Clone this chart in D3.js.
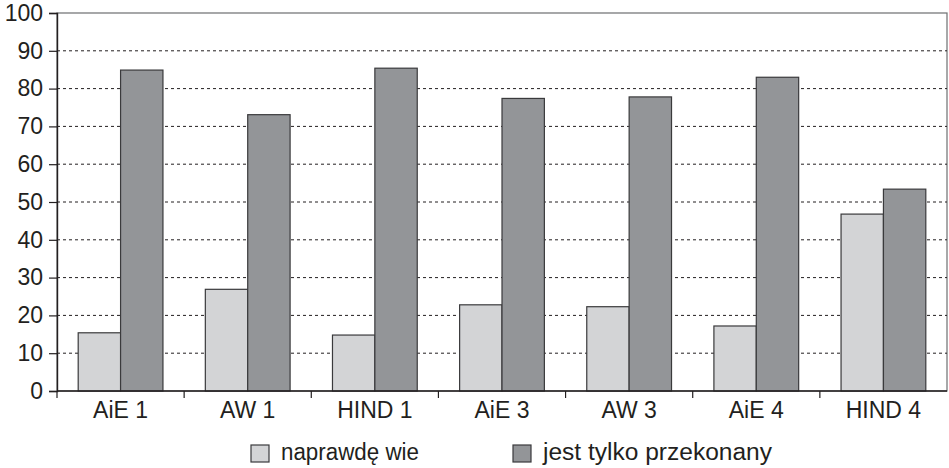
<!DOCTYPE html>
<html>
<head>
<meta charset="utf-8">
<script src="https://cdn.jsdelivr.net/npm/d3@7"></script>
<style>
  body { margin: 0; background: #fff; }
  text { font-family: "Liberation Sans", Arial, sans-serif; fill: #231f20; }
</style>
</head>
<body>
<div id="chart"></div>
<script>
// data
var categories = ["AiE 1", "AW 1", "HIND 1", "AiE 3", "AW 3", "AiE 4", "HIND 4"];
var seriesNames = ["naprawdę wie", "jest tylko przekonany"];
var naprawdeWie = [15.4, 26.9, 14.8, 22.8, 22.3, 17.2, 46.8];
var tylkoPrzekonany = [84.9, 73.1, 85.4, 77.4, 77.8, 83.0, 53.4];
var yTicks = [0, 10, 20, 30, 40, 50, 60, 70, 80, 90, 100];
var colors = ["#d3d4d6", "#939598"];

var margin = {top: 13, right: 2, bottom: 77, left: 57},
    width = 949 - margin.left - margin.right,
    height = 468 - margin.top - margin.bottom;

var svg = d3.select("#chart").append("svg")
    .attr("width", 949)
    .attr("height", 468)
  .append("g")
    .attr("transform", "translate(" + margin.left + "," + margin.top + ")");

var x = d3.scaleBand().domain(categories).range([0, width]).padding(0);
var inner = d3.scaleBand().domain([0, 1]).range([0, x.bandwidth()])
    .paddingInner(0).paddingOuter(0.5);
var y = d3.scaleLinear().domain([0, 100]).range([height, 0]);

// frame (top & right)
svg.append("rect")
    .attr("x", 0).attr("y", 0)
    .attr("width", width).attr("height", height)
    .attr("fill", "none").attr("stroke", "#6d6e70").attr("stroke-width", 1.2);

// dashed gridlines
svg.append("g")
  .selectAll("line")
  .data(yTicks.filter(d => d > 0 && d < 100))
  .enter().append("line")
    .attr("x1", 0).attr("x2", width)
    .attr("y1", d => y(d)).attr("y2", d => y(d))
    .attr("stroke", "#231f20")
    .attr("stroke-width", 1)
    .attr("stroke-dasharray", "3,3");

// bars
var rows = categories.map((c, i) => ({cat: c, vals: [naprawdeWie[i], tylkoPrzekonany[i]]}));
var groups = svg.append("g").selectAll("g")
    .data(rows)
    .enter().append("g")
    .attr("transform", d => "translate(" + x(d.cat) + ",0)");

groups.selectAll("rect")
    .data(d => d.vals.map((v, k) => ({k: k, v: v})))
    .enter().append("rect")
    .attr("x", d => inner(d.k))
    .attr("width", inner.bandwidth())
    .attr("y", d => y(d.v))
    .attr("height", d => height - y(d.v))
    .attr("fill", d => colors[d.k])
    .attr("stroke", "#3a3a3c")
    .attr("stroke-width", 1.2);

// y axis
var yAxis = svg.append("g")
    .call(d3.axisLeft(y).tickValues(yTicks).tickSize(8).tickPadding(6));
yAxis.select(".domain").attr("stroke", "#231f20").attr("stroke-width", 1.4);
yAxis.selectAll(".tick line").attr("stroke", "#231f20").attr("stroke-width", 1.2);
yAxis.selectAll("text").style("font-size", "23px").attr("fill", "#231f20");

// x axis with ticks between categories
var xAxis = svg.append("g")
    .attr("transform", "translate(0," + height + ")");
xAxis.append("line")
    .attr("x1", 0).attr("x2", width)
    .attr("stroke", "#231f20").attr("stroke-width", 1.4);
xAxis.selectAll(".sep")
    .data(categories)
    .enter().append("line")
    .attr("class", "sep")
    .attr("x1", d => x(d)).attr("x2", d => x(d))
    .attr("y1", 0).attr("y2", 7)
    .attr("stroke", "#231f20").attr("stroke-width", 1.2);
xAxis.selectAll(".lab")
    .data(categories)
    .enter().append("text")
    .attr("class", "lab")
    .attr("x", d => x(d) + x.bandwidth() / 2)
    .attr("y", 27)
    .attr("text-anchor", "middle")
    .style("font-size", "23px")
    .text(d => d);

// legend
var legendX = [251, 513];
var legendTextLen = [138, 229];
var legend = svg.append("g").selectAll("g")
    .data(seriesNames)
    .enter().append("g")
    .attr("transform", (d, i) => "translate(" + (legendX[i] - margin.left) + "," + (445 - margin.top) + ")");
legend.append("rect")
    .attr("width", 18).attr("height", 17)
    .attr("fill", (d, i) => colors[i])
    .attr("stroke", "#3a3a3c").attr("stroke-width", 1.2);
legend.append("text")
    .attr("x", 30).attr("y", 15)
    .attr("textLength", (d, i) => legendTextLen[i])
    .attr("lengthAdjust", "spacingAndGlyphs")
    .style("font-size", "23.5px")
    .text(d => d);
</script>
</body>
</html>
